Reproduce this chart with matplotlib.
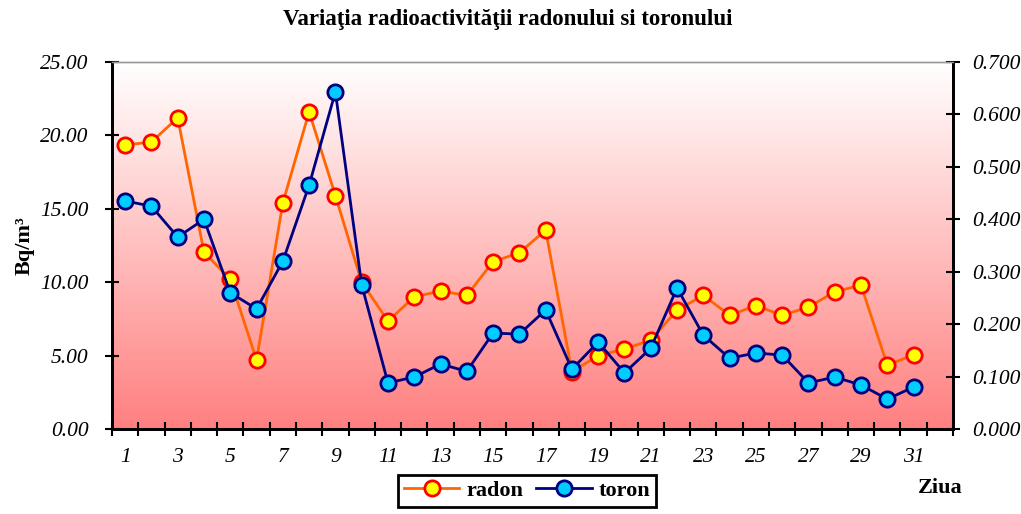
import numpy as np
import matplotlib.pyplot as plt
from matplotlib.colors import LinearSegmentedColormap

# Daily values
zile = np.arange(1, 32)
radon = [19.35, 19.55, 21.2, 12.05, 10.2, 4.7, 15.4, 21.6, 15.9, 10.0,
         7.35, 9.0, 9.4, 9.1, 11.4, 12.0, 13.55, 3.9, 5.0, 5.45,
         6.05, 8.1, 9.1, 7.75, 8.4, 7.75, 8.3, 9.35, 9.8, 4.35, 5.05]
toron = [0.435, 0.425, 0.366, 0.400, 0.260, 0.229, 0.320, 0.465, 0.643, 0.275,
         0.088, 0.099, 0.124, 0.110, 0.183, 0.181, 0.227, 0.114, 0.166, 0.107,
         0.154, 0.269, 0.179, 0.135, 0.145, 0.141, 0.088, 0.099, 0.084, 0.057, 0.080]
left_ticks = [0, 5, 10, 15, 20, 25]
right_ticks = [0, 0.1, 0.2, 0.3, 0.4, 0.5, 0.6, 0.7]

plt.rcParams['font.family'] = ['Liberation Serif', 'DejaVu Serif']

fig = plt.figure(figsize=(10.21, 5.14), dpi=100)
ax = fig.add_axes([112 / 1021, 85 / 514, 841 / 1021, 367 / 514])
ax2 = ax.twinx()

# gradient background
cmap = LinearSegmentedColormap.from_list('bg', ['#ffffff', '#ff8080'])
grad = np.linspace(0, 1, 256).reshape(-1, 1)
ax.imshow(grad, cmap=cmap, aspect='auto', extent=[0, 32, 0, 25],
          origin='upper', zorder=0)

x = zile - 0.5
ax.plot(x, radon, color='#ff6600', lw=2, marker='o', ms=11,
        mfc='#ffff00', mec='#ff0000', mew=2, label='radon', zorder=3)
ax2.plot(x, toron, color='#000080', lw=2, marker='o', ms=11,
         mfc='#00ccff', mec='#000080', mew=2, label='toron', zorder=3)

ax.set_xlim(0, 32)
ax.set_ylim(0, 25)
ax2.set_ylim(0, 0.7)

ax.set_xticks(np.arange(0, 33))
ax.set_xticklabels([])
ax.set_xticks(zile[::2] - 0.5, minor=True)
ax.set_xticklabels([str(z) for z in zile[::2]], minor=True)
ax.tick_params(axis='x', which='major', direction='inout', length=10, width=1.5)
ax.tick_params(axis='x', which='minor', length=0, pad=14, labelsize=15.5)

ax.set_yticks(left_ticks)
ax.set_yticklabels(['%.2f' % v for v in left_ticks])
ax.tick_params(axis='y', direction='inout', length=10, width=1.5, labelsize=15.5, pad=12)
ax2.set_yticks(right_ticks)
ax2.set_yticklabels(['%.3f' % v for v in right_ticks])
ax2.tick_params(axis='y', direction='inout', length=10, width=1.5, labelsize=15.5, pad=9)

for lab in ax.get_xticklabels(minor=True) + ax.get_yticklabels() + ax2.get_yticklabels():
    lab.set_fontstyle('italic')

for a in (ax, ax2):
    a.spines['top'].set_color('#999999')
    a.spines['top'].set_linewidth(1)
    for s in ('left', 'right', 'bottom'):
        a.spines[s].set_linewidth(2)

ax.set_ylabel('Bq/m³', fontsize=16, fontweight='bold', labelpad=4)
fig.text(940 / 1021, 1 - 488 / 514, 'Ziua', fontsize=16, fontweight='bold',
         ha='center', va='center')
fig.text(508 / 1021, 1 - 20 / 514, 'Variaţia radioactivităţii radonului si toronului',
         fontsize=16.5, fontweight='bold', ha='center', va='center')

h1, l1 = ax.get_legend_handles_labels()
h2, l2 = ax2.get_legend_handles_labels()
leg = fig.legend(h1 + h2, l1 + l2, ncol=2, loc='upper center',
                 bbox_to_anchor=(527 / 1021, 1 - 475 / 514), fancybox=False,
                 edgecolor='black', framealpha=1,
                 prop={'weight': 'bold', 'size': 16}, handlelength=2.5,
                 columnspacing=0.6, handletextpad=0.3, borderpad=0.25,
                 borderaxespad=0)
leg.get_frame().set_linewidth(2)

fig.savefig('out.png', dpi=100)
